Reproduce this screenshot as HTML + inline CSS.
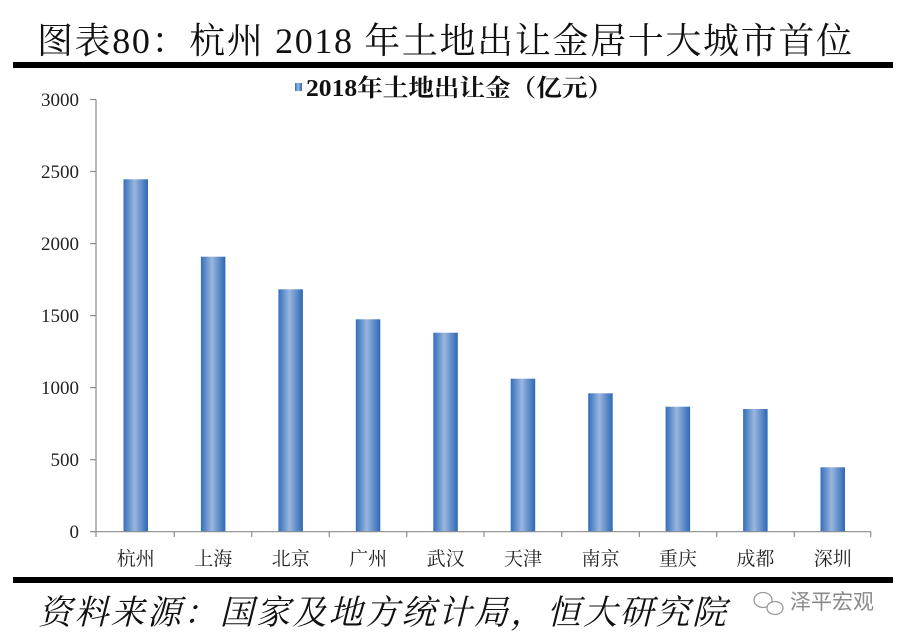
<!DOCTYPE html>
<html>
<head>
<meta charset="utf-8">
<style>
  html, body { margin: 0; padding: 0; background: #ffffff; }
  body { width: 909px; height: 640px; overflow: hidden; }
  svg { display: block; }
</style>
</head>
<body>
<svg width="909" height="640" viewBox="0 0 909 640" xmlns="http://www.w3.org/2000/svg">
  <defs>
    <linearGradient id="bar" x1="0" y1="0" x2="1" y2="0">
      <stop offset="0" stop-color="#326fbb"/>
      <stop offset="0.45" stop-color="#9ab6df"/>
      <stop offset="1" stop-color="#2d68b4"/>
    </linearGradient>
  </defs>

  <!-- Title -->
  <text x="37" y="53" font-family="'Liberation Serif','Noto Serif CJK SC',serif" font-size="36" fill="#111" textLength="815" lengthAdjust="spacing">图表80：杭州 2018 年土地出让金居十大城市首位</text>
  <rect x="13" y="62" width="880" height="6" fill="#000"/>

  <!-- Legend -->
  <rect x="295" y="83" width="7" height="8" fill="url(#bar)"/>
  <text x="306" y="96" font-family="'Liberation Serif','Noto Serif CJK SC',serif" font-weight="bold" font-size="24" fill="#111" textLength="307" lengthAdjust="spacingAndGlyphs">2018年土地出让金（亿元）</text>

  <!-- Y axis -->
  <line x1="96" y1="99.5" x2="96" y2="532" stroke="#8c8c8c" stroke-width="1.2"/>
  <g stroke="#8c8c8c" stroke-width="1.2">
    <line x1="90" y1="99.5" x2="96" y2="99.5"/>
    <line x1="90" y1="171.5" x2="96" y2="171.5"/>
    <line x1="90" y1="243.6" x2="96" y2="243.6"/>
    <line x1="90" y1="315.6" x2="96" y2="315.6"/>
    <line x1="90" y1="387.6" x2="96" y2="387.6"/>
    <line x1="90" y1="459.7" x2="96" y2="459.7"/>
    <line x1="90" y1="531.7" x2="96" y2="531.7"/>
  </g>
  <g font-family="'Liberation Serif',serif" font-size="19" fill="#222" text-anchor="end">
    <text x="79" y="106">3000</text>
    <text x="79" y="178">2500</text>
    <text x="79" y="250">2000</text>
    <text x="79" y="322">1500</text>
    <text x="79" y="394">1000</text>
    <text x="79" y="466">500</text>
    <text x="79" y="538">0</text>
  </g>

  <!-- Bars -->
  <g fill="url(#bar)">
    <rect x="123.5" y="179.3" width="24.5" height="352.4"/>
    <rect x="200.9" y="256.7" width="24.5" height="275.0"/>
    <rect x="278.4" y="289.3" width="24.5" height="242.4"/>
    <rect x="355.8" y="319.3" width="24.5" height="212.4"/>
    <rect x="433.3" y="332.7" width="24.5" height="199.0"/>
    <rect x="510.7" y="378.7" width="24.5" height="153.0"/>
    <rect x="588.2" y="393.3" width="24.5" height="138.4"/>
    <rect x="665.6" y="406.7" width="24.5" height="125.0"/>
    <rect x="743.1" y="409.0" width="24.5" height="122.7"/>
    <rect x="820.5" y="467.3" width="24.5" height="64.4"/>
  </g>

  <!-- X axis -->
  <line x1="95" y1="531.7" x2="871" y2="531.7" stroke="#8c8c8c" stroke-width="1.2"/>
  <g stroke="#8c8c8c" stroke-width="1.2">
    <line x1="96" y1="531.7" x2="96" y2="537"/>
    <line x1="174.3" y1="531.7" x2="174.3" y2="537"/>
    <line x1="251.7" y1="531.7" x2="251.7" y2="537"/>
    <line x1="329.3" y1="531.7" x2="329.3" y2="537"/>
    <line x1="406.7" y1="531.7" x2="406.7" y2="537"/>
    <line x1="484" y1="531.7" x2="484" y2="537"/>
    <line x1="561.7" y1="531.7" x2="561.7" y2="537"/>
    <line x1="639.3" y1="531.7" x2="639.3" y2="537"/>
    <line x1="716.7" y1="531.7" x2="716.7" y2="537"/>
    <line x1="794.3" y1="531.7" x2="794.3" y2="537"/>
    <line x1="870.7" y1="531.7" x2="870.7" y2="537"/>
  </g>
  <g font-family="'Liberation Serif','Noto Serif CJK SC',serif" font-size="19" fill="#222" text-anchor="middle">
    <text x="135.8" y="565">杭州</text>
    <text x="213.2" y="565">上海</text>
    <text x="290.7" y="565">北京</text>
    <text x="368.1" y="565">广州</text>
    <text x="445.6" y="565">武汉</text>
    <text x="523" y="565">天津</text>
    <text x="600.5" y="565">南京</text>
    <text x="677.9" y="565">重庆</text>
    <text x="755.4" y="565">成都</text>
    <text x="832.8" y="565">深圳</text>
  </g>

  <!-- Bottom rule -->
  <rect x="13" y="577" width="880" height="6" fill="#000"/>

  <!-- Source -->
  <text x="38" y="624" font-family="'Liberation Serif','Noto Serif CJK SC',serif" font-style="italic" font-size="34" fill="#111" textLength="688" lengthAdjust="spacing">资料来源：国家及地方统计局，恒大研究院</text>

  <!-- Watermark -->
  <g stroke="#9a9a9a" stroke-width="1.3" fill="none">
    <ellipse cx="763" cy="600" rx="9" ry="7.5"/>
    <ellipse cx="775" cy="608" rx="8" ry="6.5" fill="#fff"/>
  </g>
  <text x="790" y="609" font-family="'Liberation Sans','Noto Sans CJK SC',sans-serif" font-size="21" fill="#8a8a8a">泽平宏观</text>
</svg>
</body>
</html>
